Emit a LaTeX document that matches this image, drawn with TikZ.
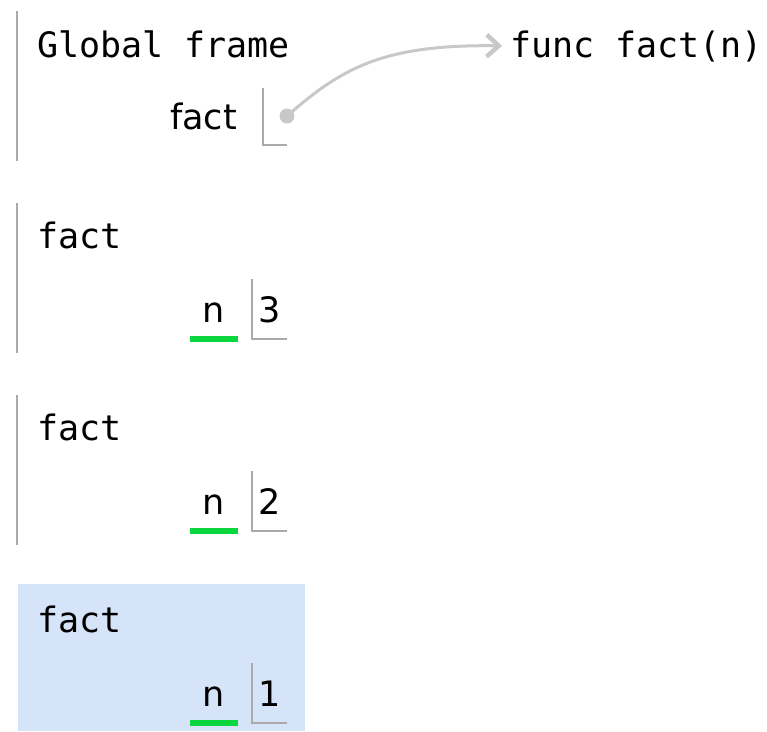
\documentclass[tikz,border=0pt]{standalone}
\usepackage{fontspec}
\usetikzlibrary{arrows.meta}
\newfontfamily\monofnt{DejaVu Sans Mono}
\newfontfamily\sansfnt{DejaVu Sans}
\definecolor{framegray}{RGB}{170,170,170}
\definecolor{boxgray}{RGB}{170,170,170}
\definecolor{arrowgray}{RGB}{200,200,200}
\definecolor{hlgreen}{RGB}{12,214,62}
\definecolor{activeblue}{RGB}{214,228,249}
\tikzset{
  monotext/.style={inner sep=0pt, font=\monofnt\fontsize{35}{40}\selectfont},
  sanstext/.style={inner sep=0pt, font=\sansfnt\fontsize{35}{40}\selectfont},
  frameline/.style={draw=framegray, line width=2pt},
  boxline/.style={draw=boxgray, line width=1.6pt},
  ptrarrow/.style={draw=arrowgray, line width=3pt, shorten >=8pt,
    -{Straight Barb[length=12pt,width=22pt,line width=4.5pt]}},
}
\begin{document}
\begin{tikzpicture}[x=1pt,y=-1pt]
\useasboundingbox (0,0) rectangle (767,731);
% active frame background
\fill[activeblue] (18,584) rectangle (305,731);
% Global frame
\draw[frameline] (17,11) -- (17,161);
\node[monotext, anchor=base west] (gf) at (37,57) {Global frame};
\node[monotext, anchor=base west] (func) at (510,57) {func fact(n)};
\node[sanstext, anchor=base east] (gfact) at (237,129) {fact};
\draw[boxline] (263,88) -- (263,145) -- (287,145);
\coordinate (dot) at (287,116);
\fill[arrowgray] (dot) circle (7.5pt);
\draw[ptrarrow] (dot) .. controls (340,70) and (380,44) .. (func.west);
% frames
\foreach \k/\v in {0/3,1/2,2/1}{
  \pgfmathsetmacro{\dy}{192*\k}
  \begin{scope}[yshift=-\dy pt]
    \ifnum\k=2
      \draw[frameline] (17,584) -- (17,731);
    \else
      \draw[frameline] (17,203) -- (17,353);
    \fi
    \node[monotext, anchor=base west] (ft\k) at (37,248) {fact};
    \node[sanstext, anchor=base] (n\k) at (214,322) {n};
    \fill[hlgreen] (190,336) rectangle (238,342);
    \draw[boxline] (252,279) -- (252,339) -- (287,339);
    \node[sanstext, anchor=base] (v\k) at (270,322) {\v};
  \end{scope}
}
\end{tikzpicture}
\end{document}
